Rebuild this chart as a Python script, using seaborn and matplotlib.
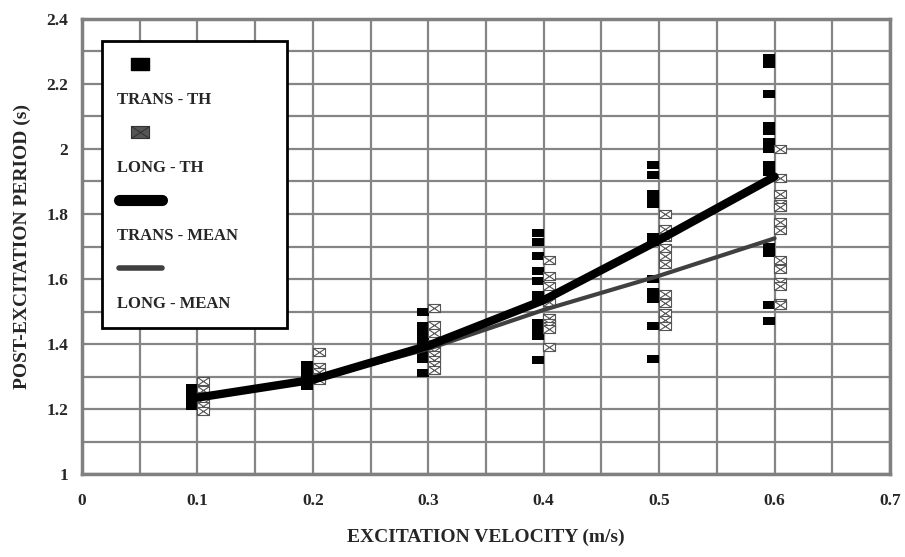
import pandas as pd
import matplotlib.pyplot as plt
import seaborn as sns
from matplotlib.path import Path
from matplotlib.lines import Line2D

# === Data ===
velocity = [0.1, 0.2, 0.3, 0.4, 0.5, 0.6]

trans_th = [
    [1.265, 1.25, 1.235, 1.22, 1.21],
    [1.335, 1.32, 1.30, 1.28, 1.27],
    [1.50, 1.455, 1.435, 1.415, 1.40, 1.385, 1.37, 1.355, 1.31],
    [1.74, 1.715, 1.67, 1.625, 1.595, 1.55, 1.535, 1.465, 1.44, 1.425, 1.35],
    [1.95, 1.92, 1.86, 1.845, 1.83, 1.73, 1.715, 1.60, 1.56, 1.54, 1.455, 1.355],
    [2.28, 2.26, 2.17, 2.07, 2.055, 2.02, 2.00, 1.95, 1.93, 1.70, 1.68, 1.52, 1.47],
]
long_th = [
    [1.285, 1.26, 1.24, 1.22, 1.21, 1.195],
    [1.375, 1.33, 1.315, 1.30, 1.29],
    [1.51, 1.46, 1.435, 1.40, 1.38, 1.365, 1.35, 1.335, 1.32],
    [1.66, 1.61, 1.58, 1.53, 1.48, 1.465, 1.455, 1.445, 1.39],
    [1.80, 1.755, 1.73, 1.695, 1.67, 1.645, 1.555, 1.525, 1.495, 1.475, 1.455],
    [2.00, 1.91, 1.86, 1.83, 1.82, 1.775, 1.75, 1.66, 1.63, 1.59, 1.58, 1.525, 1.52],
]
trans_mean = [1.235, 1.29, 1.395, 1.535, 1.72, 1.915]
long_mean = [1.24, 1.29, 1.385, 1.505, 1.61, 1.725]

labels = ["TRANS - TH", "LONG - TH", "TRANS - MEAN", "LONG - MEAN"]

# small side-by-side dodge of the two point series
dodge = 0.005
df_trans = pd.DataFrame([(v - dodge, p) for v, ps in zip(velocity, trans_th) for p in ps],
                        columns=["v", "p"])
df_long = pd.DataFrame([(v + dodge, p) for v, ps in zip(velocity, long_th) for p in ps],
                       columns=["v", "p"])

# === Markers: flat rectangle and box with a cross ===
rect_v = [(-1.5, -1), (1.5, -1), (1.5, 1), (-1.5, 1), (-1.5, -1)]
rect_c = [Path.MOVETO, Path.LINETO, Path.LINETO, Path.LINETO, Path.CLOSEPOLY]
rect_marker = Path(rect_v, rect_c)
boxx_marker = Path(rect_v + [(-1.5, -1), (1.5, 1), (-1.5, 1), (1.5, -1)],
                   rect_c + [Path.MOVETO, Path.LINETO, Path.MOVETO, Path.LINETO])

sns.set_style("white")
plt.rcParams["font.family"] = ["Liberation Serif", "DejaVu Serif"]
plt.rcParams["font.weight"] = "bold"

fig = plt.figure(figsize=(9.05, 5.57), dpi=100)
ax = fig.add_axes([0.0906, 0.149, 0.8928, 0.8169])

sns.scatterplot(data=df_trans, x="v", y="p", marker=rect_marker, s=75,
                color="black", edgecolor="black", linewidth=0, ax=ax, zorder=3)
sns.scatterplot(data=df_long, x="v", y="p", marker=boxx_marker, s=75,
                color="white", edgecolor="#555555", linewidth=0.8, ax=ax, zorder=3)
sns.lineplot(x=velocity, y=long_mean, color="#404040", lw=3, ax=ax, zorder=4)
sns.lineplot(x=velocity, y=trans_mean, color="black", lw=6, ax=ax, zorder=5)

# === Axes format ===
ax.set_xlim(0, 0.7)
ax.set_ylim(1, 2.4)
ax.set_xticks([i / 10 for i in range(8)])
ax.set_xticklabels(["0", "0.1", "0.2", "0.3", "0.4", "0.5", "0.6", "0.7"])
ax.set_xticks([i / 20 for i in range(15)], minor=True)
ax.set_yticks([1 + i / 5 for i in range(8)])
ax.set_yticklabels(["1", "1.2", "1.4", "1.6", "1.8", "2", "2.2", "2.4"])
ax.set_yticks([1 + i / 10 for i in range(15)], minor=True)
ax.grid(which="both", color="#858585", lw=1.6)
ax.set_axisbelow(True)
ax.tick_params(which="both", length=0, labelsize=12.5)
ax.tick_params(axis="x", pad=14)
ax.tick_params(axis="y", pad=10)
for s in ax.spines.values():
    s.set_color("#808080")
    s.set_linewidth(2.5)

ax.set_xlabel("EXCITATION VELOCITY (m/s)", fontsize=14, fontweight="bold", labelpad=14)
ax.set_ylabel("POST-EXCITATION PERIOD (s)", fontsize=14, fontweight="bold", labelpad=11)

# === Legend: symbol row above each label row ===
blank = Line2D([], [], ls="none")
handles = [
    Line2D([], [], ls="none", marker=rect_marker, ms=13, color="black"), blank,
    Line2D([], [], ls="none", marker=boxx_marker, ms=13, mfc="#555555", mec="#333333", mew=0.8), blank,
    Line2D([], [], color="black", lw=8, solid_capstyle="round"), blank,
    Line2D([], [], color="#404040", lw=4, solid_capstyle="round"), blank,
]
leg_labels = ["", labels[0], "", labels[1], "", labels[2], "", labels[3]]
leg = ax.legend(handles, leg_labels, loc="upper left", bbox_to_anchor=(0.0248, 0.0, 0.229, 0.9516),
                mode="expand", borderaxespad=0, handlelength=2.6, handletextpad=-2.72,
                borderpad=1.0, labelspacing=1.08, fancybox=False, framealpha=1,
                prop={"family": "Liberation Serif", "weight": "bold", "size": 12})
leg.get_frame().set_edgecolor("black")
leg.get_frame().set_linewidth(2)

plt.savefig("out.png", dpi=100)
